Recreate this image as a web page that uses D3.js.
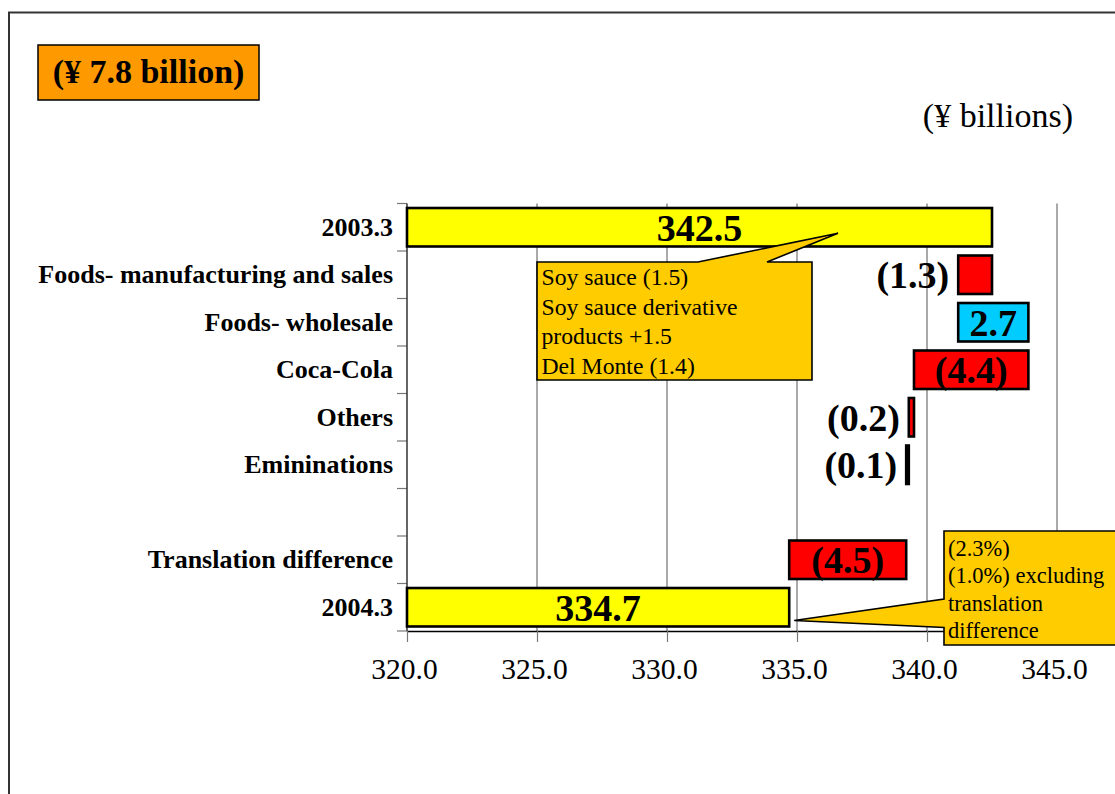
<!DOCTYPE html>
<html>
<head>
<meta charset="utf-8">
<script src="https://cdn.jsdelivr.net/npm/d3@7"></script>
<style>
  html, body { margin: 0; padding: 0; background: #fff; overflow: hidden; }
  svg { display: block; font-family: "Liberation Serif", "Times New Roman", serif; }
</style>
</head>
<body>
<svg id="chart" width="1115" height="794"></svg>
<script>
// Net sales bridge, FY2003.3 -> FY2004.3 (¥ billions)
const categories = [
  "2003.3",
  "Foods- manufacturing and sales",
  "Foods- wholesale",
  "Coca-Cola",
  "Others",
  "Emininations",
  "",
  "Translation difference",
  "2004.3"
];
const kinds = ["total", "delta", "delta", "delta", "delta", "delta", "gap", "delta", "total"];
const values = [342.5, -1.3, 2.7, -4.4, -0.2, -0.1, null, -4.5, 334.7];
const labelPlacement = ["center", "left", "center", "center", "left", "left", null, "center", "center"];
const xTicks = [320, 325, 330, 335, 340, 345];

const titleText = "(¥ 7.8 billion)";
const unitText = "(¥ billions)";
const noteFoods = ["Soy sauce (1.5)", "Soy sauce derivative", "products +1.5", "Del Monte (1.4)"];
const noteTotal = ["(2.3%)", "(1.0%) excluding", "translation", "difference"];

const svg = d3.select("#chart");

// outer page frame
svg.append("rect")
  .attr("x", 9).attr("y", 12.5)
  .attr("width", 1140).attr("height", 820)
  .attr("fill", "none").attr("stroke", "#333").attr("stroke-width", 2);

// scales (axis runs on past the visible area, to 350)
const x = d3.scaleLinear().domain([320, 350]).range([407, 1187]);
const y = d3.scaleBand().domain(categories).range([203.5, 631]).padding(0);
const barInset = y.bandwidth() * 0.095;
const barH = y.bandwidth() - 2 * barInset;

// waterfall segments
let running = 0;
const bars = [];
categories.forEach((c, i) => {
  const v = values[i];
  if (kinds[i] === "total") {
    bars.push({ c, i, x0: x.domain()[0], x1: v, v, kind: "total" });
    running = v;
  } else if (kinds[i] === "delta") {
    const end = running + v;
    bars.push({ c, i, x0: Math.min(running, end), x1: Math.max(running, end), v, kind: v < 0 ? "neg" : "pos" });
    running = end;
  }
});
const fillFor = { total: "#FFFF00", neg: "#FF0000", pos: "#00CCFF" };

// vertical gridlines
svg.append("g").selectAll("line")
  .data(xTicks.filter(t => t > x.domain()[0]))
  .join("line")
  .attr("x1", d => x(d)).attr("x2", d => x(d))
  .attr("y1", y.range()[0]).attr("y2", y.range()[1])
  .attr("stroke", "#555").attr("stroke-width", 1);

// x axis
const xAxis = svg.append("g")
  .attr("transform", `translate(0,${y.range()[1]})`)
  .call(d3.axisBottom(x).tickValues(xTicks).tickFormat(d3.format(".1f")).tickSize(11).tickPadding(16).tickSizeOuter(0));
xAxis.select(".domain").attr("stroke", "#000").attr("stroke-width", 1.5);
xAxis.selectAll(".tick line").attr("stroke", "#777").attr("stroke-width", 1.2);
xAxis.selectAll(".tick text")
  .attr("fill", "#000")
  .attr("dx", "-3")
  .style("font-family", "'Liberation Serif', 'Times New Roman', serif")
  .style("font-size", "29.5px");

// y axis: tick marks at band boundaries, category labels at band centres
const bounds = categories.map(c => y(c)).concat([y.range()[1]]);
svg.append("g").selectAll("line")
  .data(bounds)
  .join("line")
  .attr("x1", x(320) - 10).attr("x2", x(320))
  .attr("y1", d => d).attr("y2", d => d)
  .attr("stroke", "#777").attr("stroke-width", 1.2);

const yAxis = svg.append("g")
  .attr("transform", `translate(${x(320)},0)`)
  .call(d3.axisLeft(y).tickSize(0).tickPadding(14));
yAxis.select(".domain").remove();
yAxis.selectAll(".tick text")
  .attr("fill", "#000")
  .style("font-family", "'Liberation Serif', 'Times New Roman', serif")
  .style("font-size", "26px")
  .style("font-weight", "bold");
svg.append("line")
  .attr("x1", x(320)).attr("x2", x(320))
  .attr("y1", y.range()[0]).attr("y2", y.range()[1])
  .attr("stroke", "#333").attr("stroke-width", 1.5);

// bars
svg.append("g").selectAll("rect")
  .data(bars)
  .join("rect")
  .attr("x", d => x(d.x0))
  .attr("y", d => y(d.c) + barInset)
  .attr("width", d => x(d.x1) - x(d.x0))
  .attr("height", barH)
  .attr("fill", d => fillFor[d.kind])
  .attr("stroke", "#000").attr("stroke-width", 2.6);

// value labels
const fmtVal = v => v < 0 ? `(${Math.abs(v).toFixed(1)})` : v.toFixed(1);
svg.append("g").selectAll("text")
  .data(bars)
  .join("text")
  .attr("x", d => labelPlacement[d.i] === "left" ? x(d.x0) - 9 : (x(d.x0) + x(d.x1)) / 2)
  .attr("y", d => y(d.c) + y.bandwidth() / 2)
  .attr("dy", "0.36em")
  .attr("text-anchor", d => labelPlacement[d.i] === "left" ? "end" : "middle")
  .style("font-size", "38px")
  .style("font-weight", "bold")
  .text(d => fmtVal(d.v));

// callout: segment detail for Foods
{
  const bx0 = x(325), bx1 = 812, by0 = 262, by1 = 380;
  const tipX = 838, tipY = y("2003.3") + y.bandwidth() / 2 + 6;
  const path = d3.path();
  path.moveTo(bx0, by0); path.lineTo(698, by0); path.lineTo(tipX, tipY); path.lineTo(767, by0);
  path.lineTo(bx1, by0); path.lineTo(bx1, by1); path.lineTo(bx0, by1); path.closePath();
  svg.append("path").attr("d", path.toString())
    .attr("fill", "#FFCC00").attr("stroke", "#000").attr("stroke-width", 1.6);
  svg.append("g").selectAll("text").data(noteFoods).join("text")
    .attr("x", bx0 + 4.5).attr("y", (d, i) => 285 + i * 29.7)
    .style("font-size", "23.7px")
    .text(d => d);
}

// callout: year-on-year change
{
  const bx0 = 944, bx1 = 1140, by0 = 531, by1 = 645;
  const tipX = x(334.7) + 5, tipY = 620.5;
  const path = d3.path();
  path.moveTo(bx0, by0); path.lineTo(bx1, by0); path.lineTo(bx1, by1); path.lineTo(bx0, by1);
  path.lineTo(bx0, 627.5); path.lineTo(tipX, tipY); path.lineTo(bx0, 599); path.closePath();
  svg.append("path").attr("d", path.toString())
    .attr("fill", "#FFCC00").attr("stroke", "#000").attr("stroke-width", 1.6);
  svg.append("g").selectAll("text").data(noteTotal).join("text")
    .attr("x", bx0 + 4).attr("y", (d, i) => 556 + i * 27.4)
    .style("font-size", "22.5px")
    .text(d => d);
}

// title badge
svg.append("rect")
  .attr("x", 38).attr("y", 45).attr("width", 221).attr("height", 55)
  .attr("fill", "#FF9900").attr("stroke", "#000").attr("stroke-width", 1.5);
svg.append("text")
  .attr("x", 148.5).attr("y", 83)
  .attr("text-anchor", "middle")
  .style("font-size", "34px").style("font-weight", "bold")
  .text(titleText);

// unit note
svg.append("text")
  .attr("x", 1073).attr("y", 127)
  .attr("text-anchor", "end")
  .style("font-size", "34px")
  .text(unitText);
</script>
</body>
</html>
